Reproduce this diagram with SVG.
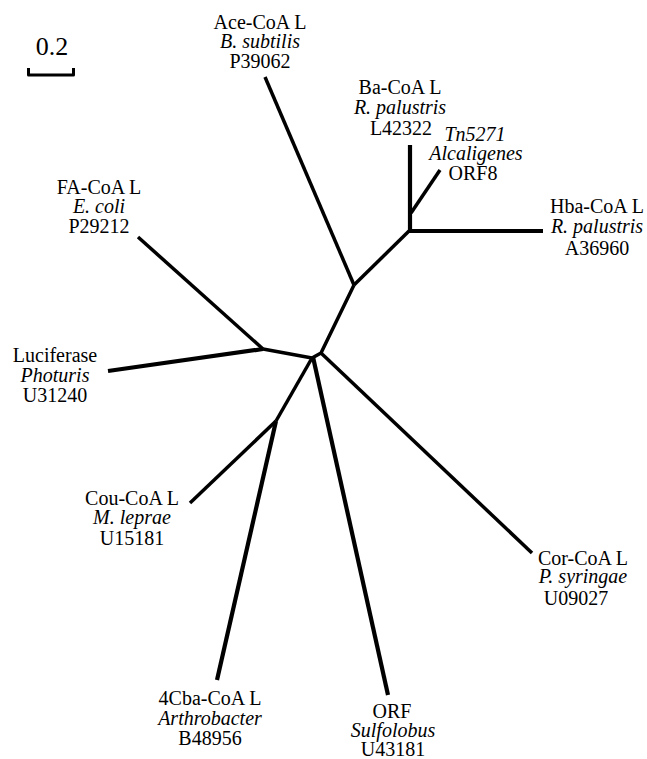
<svg xmlns="http://www.w3.org/2000/svg" width="647" height="759" viewBox="0 0 647 759">
<style>
text{font-size:20px;fill:#000;text-anchor:middle}
.br{stroke:#000;stroke-width:3.5;fill:none;stroke-linecap:butt;stroke-linejoin:round}
.th{stroke-width:4.2}
</style>
<rect width="647" height="759" fill="#fff"/>
<g id="scale">
<text x="52" y="55" style="font-size:26px;font-family:'Liberation Serif',serif">0.2</text>
<path class="br" style="stroke-width:3" d="M28.5 68 V75 H73.5 V68"/>
</g>
<g id="connectors">
<path class="br" d="M265 77 L354 285"/>
<path class="br" d="M354 285 L409 231"/>
<path class="br th" d="M410 145 L410 232"/>
<path class="br" d="M411 213 L440 170"/>
<path class="br th" d="M408 231 L543 231"/>
<path class="br" d="M354 285 L321 353 L312 358"/>
<path class="br" d="M321 353 L532 553"/>
<path class="br" d="M312 358 L263 349"/>
<path class="br" d="M138 237 L263 349"/>
<path class="br th" d="M108 371 L263 349"/>
<path class="br" d="M312 358 L276 421"/>
<path class="br" d="M190 503 L276 421"/>
<path class="br th" d="M217 680 L276 421"/>
<path class="br th" d="M313 357 L388 695"/>
</g>
<g id="ace"><text style="font-family:'Liberation Serif',serif" x="260" y="29">Ace-CoA L</text><text style="font-family:'Liberation Serif',serif;font-style:italic" x="260" y="48">B. subtilis</text><text style="font-family:'Liberation Serif',serif" x="260" y="68">P39062</text></g>
<g id="ba"><text style="font-family:'Liberation Serif',serif" x="400" y="94">Ba-CoA L</text><text style="font-family:'Liberation Serif',serif;font-style:italic" x="400" y="114">R. palustris</text><text style="font-family:'Liberation Serif',serif" x="401" y="135">L42322</text></g>
<g id="tn"><text style="font-family:'Liberation Serif',serif;font-style:italic" x="475" y="141">Tn5271</text><text style="font-family:'Liberation Serif',serif;font-style:italic" x="476" y="160">Alcaligenes</text><text style="font-family:'Liberation Serif',serif" x="473" y="180">ORF8</text></g>
<g id="hba"><text style="font-family:'Liberation Serif',serif" x="597" y="213">Hba-CoA L</text><text style="font-family:'Liberation Serif',serif;font-style:italic" x="597" y="233">R. palustris</text><text style="font-family:'Liberation Serif',serif" x="597" y="255">A36960</text></g>
<g id="fa"><text style="font-family:'Liberation Serif',serif" x="99" y="194">FA-CoA L</text><text style="font-family:'Liberation Serif',serif;font-style:italic" x="99" y="213">E. coli</text><text style="font-family:'Liberation Serif',serif" x="99" y="233">P29212</text></g>
<g id="luc"><text style="font-family:'Liberation Serif',serif" x="55" y="362">Luciferase</text><text style="font-family:'Liberation Serif',serif;font-style:italic" x="55" y="382">Photuris</text><text style="font-family:'Liberation Serif',serif" x="55" y="402">U31240</text></g>
<g id="cou"><text style="font-family:'Liberation Serif',serif" x="132" y="505">Cou-CoA L</text><text style="font-family:'Liberation Serif',serif;font-style:italic" x="132" y="524">M. leprae</text><text style="font-family:'Liberation Serif',serif" x="132" y="545">U15181</text></g>
<g id="cba"><text style="font-family:'Liberation Serif',serif" x="210" y="705">4Cba-CoA L</text><text style="font-family:'Liberation Serif',serif;font-style:italic" x="210" y="725">Arthrobacter</text><text style="font-family:'Liberation Serif',serif" x="210" y="745">B48956</text></g>
<g id="orf"><text style="font-family:'Liberation Serif',serif" x="392" y="718">ORF</text><text style="font-family:'Liberation Serif',serif;font-style:italic" x="393" y="737">Sulfolobus</text><text style="font-family:'Liberation Serif',serif" x="393" y="756">U43181</text></g>
<g id="cor"><text style="font-family:'Liberation Serif',serif" x="583" y="565">Cor-CoA L</text><text style="font-family:'Liberation Serif',serif;font-style:italic" x="583" y="583">P. syringae</text><text style="font-family:'Liberation Serif',serif" x="576" y="605">U09027</text></g>
</svg>
